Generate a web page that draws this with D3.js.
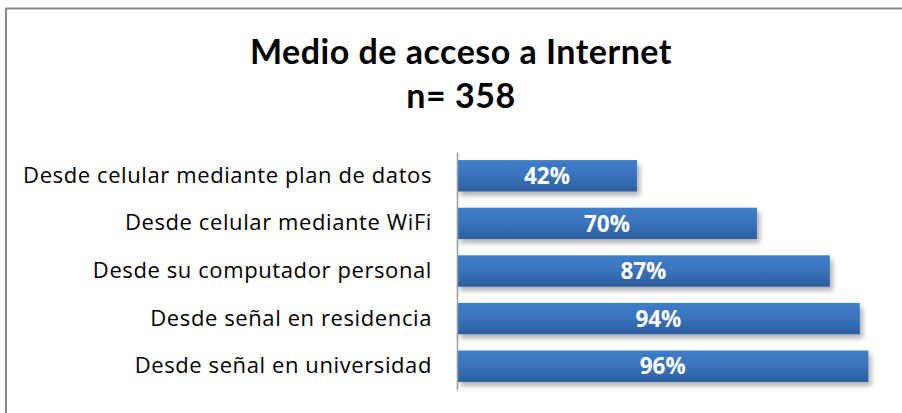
<!DOCTYPE html>
<html>
<head>
<meta charset="utf-8">
<script src="https://cdn.jsdelivr.net/npm/d3@7"></script>
<style>
  body { margin: 0; background: #fff; }
  svg { display: block; }
</style>
</head>
<body>
<div id="chart"></div>
<script>
var width = 902;
var height = 413;

// data, top to bottom as in the chart
var categorias = [
  "Desde celular mediante plan de datos",
  "Desde celular mediante WiFi",
  "Desde su computador personal",
  "Desde señal en residencia",
  "Desde señal en universidad"
];
var porcentajes = [0.42, 0.70, 0.87, 0.94, 0.96];
var titulo = ["Medio de acceso a Internet", "n= 358"];

var datos = categorias.map(function(c, i) { return { cat: c, val: porcentajes[i] }; });

var svg = d3.select("#chart")
    .append("svg")
    .attr("width", width)
    .attr("height", height);

// gradient + shadow for the bars
var defs = svg.append("defs");
var grad = defs.append("linearGradient")
    .attr("id", "barGrad")
    .attr("x1", 0).attr("y1", 0).attr("x2", 0).attr("y2", 1);
grad.append("stop").attr("offset", "0%").attr("stop-color", "#3F7DCA");
grad.append("stop").attr("offset", "45%").attr("stop-color", "#3A74BE");
grad.append("stop").attr("offset", "100%").attr("stop-color", "#2C5E9E");

var shadow = defs.append("filter")
    .attr("id", "shadow")
    .attr("x", "-10%").attr("y", "-30%")
    .attr("width", "130%").attr("height", "190%");
shadow.append("feDropShadow")
    .attr("dx", 3).attr("dy", 4)
    .attr("stdDeviation", 2.5)
    .attr("flood-color", "#000")
    .attr("flood-opacity", 0.3);

// chart frame (runs off the right and bottom edge)
svg.append("rect")
    .attr("x", 6)
    .attr("y", 8.5)
    .attr("width", 910)
    .attr("height", 420)
    .attr("fill", "none")
    .attr("stroke", "#8a8a8a")
    .attr("stroke-width", 2);

// title
svg.selectAll("text.title")
    .data(titulo)
    .enter()
    .append("text")
    .attr("class", "title")
    .attr("x", 461)
    .attr("y", function(d, i) { return 64 + i * 44; })
    .attr("text-anchor", "middle")
    .style("font-family", "Lato, 'Open Sans', sans-serif")
    .style("font-weight", "bold")
    .style("font-size", "34px")
    .style("letter-spacing", "0.5px")
    .attr("fill", "#000")
    .text(function(d) { return d; });

// scales
var xScale = d3.scaleLinear().domain([0, 1]).range([457, 885.5]);
var yScale = d3.scaleBand()
    .domain(categorias)
    .range([152, 390])
    .paddingInner(0.34)
    .paddingOuter(0.17);

// bars
svg.append("g")
    .selectAll("rect")
    .data(datos)
    .enter()
    .append("rect")
    .attr("x", xScale(0))
    .attr("y", function(d) { return yScale(d.cat); })
    .attr("width", function(d) { return xScale(d.val) - xScale(0); })
    .attr("height", yScale.bandwidth())
    .attr("fill", "url(#barGrad)")
    .attr("filter", "url(#shadow)");

// value labels
svg.append("g")
    .selectAll("text")
    .data(datos)
    .enter()
    .append("text")
    .attr("x", function(d) { return (xScale(0) + xScale(d.val)) / 2; })
    .attr("y", function(d) { return yScale(d.cat) + yScale.bandwidth() / 2; })
    .attr("dy", "0.36em")
    .attr("text-anchor", "middle")
    .style("font-family", "'Open Sans', Lato, sans-serif")
    .style("font-weight", "bold")
    .style("font-size", "22.5px")
    .attr("fill", "#fff")
    .text(function(d) { return d3.format(".0%")(d.val); });

// category axis
var yAxis = d3.axisLeft(yScale).tickSize(0).tickPadding(25);
var axisG = svg.append("g")
    .attr("transform", "translate(" + xScale(0) + ",0)")
    .call(yAxis);
axisG.select(".domain")
    .attr("stroke", "#9a9a9a")
    .attr("stroke-width", 1.5);
axisG.selectAll("text")
    .style("font-family", "'Open Sans', Lato, sans-serif")
    .style("font-size", "22px")
    .style("letter-spacing", "0.6px")
    .attr("fill", "#000");
</script>
</body>
</html>
